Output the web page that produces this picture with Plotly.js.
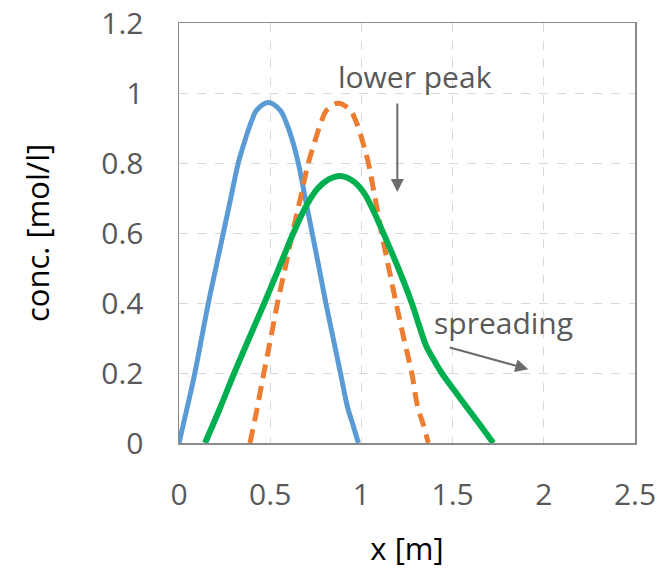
<!DOCTYPE html>
<html>
<head>
<meta charset="utf-8">
<script src="https://cdn.plot.ly/plotly-3.0.1.min.js"></script>
<style>html,body{margin:0;padding:0;background:#fff;}#chart{width:671px;height:569px;}</style>
</head>
<body>
<div id="chart"></div>
<script>
// Series
const blueX = [0, 0.04, 0.087, 0.124, 0.161, 0.202, 0.243, 0.284, 0.325, 0.356, 0.393, 0.426, 0.49, 0.554, 0.59, 0.627, 0.654, 0.692, 0.73, 0.768, 0.805, 0.845, 0.885, 0.925, 0.952, 0.983];
const blueY = [0, 0.09, 0.2, 0.3, 0.4, 0.5, 0.6, 0.7, 0.8, 0.855, 0.913, 0.951, 0.973, 0.951, 0.913, 0.855, 0.8, 0.7, 0.6, 0.5, 0.4, 0.3, 0.2, 0.1, 0.055, 0];

const orangeX = [0.389, 0.425, 0.465, 0.503, 0.54, 0.582, 0.622, 0.666, 0.709, 0.741, 0.777, 0.81, 0.873, 0.938, 0.975, 1.01, 1.038, 1.075, 1.111, 1.15, 1.19, 1.232, 1.276, 1.31, 1.338, 1.367];
const orangeY = [0, 0.09, 0.2, 0.3, 0.4, 0.5, 0.6, 0.7, 0.8, 0.855, 0.913, 0.951, 0.971, 0.951, 0.913, 0.855, 0.8, 0.7, 0.6, 0.5, 0.4, 0.3, 0.2, 0.1, 0.055, 0];

const greenX = [0.143, 0.225, 0.303, 0.385, 0.468, 0.548, 0.627, 0.70, 0.76, 0.82, 0.883, 0.95, 1.01, 1.06, 1.12, 1.202, 1.276, 1.32, 1.358, 1.40, 1.44, 1.51, 1.577, 1.65, 1.723];
const greenY = [0, 0.1, 0.2, 0.3, 0.4, 0.5, 0.6, 0.68, 0.727, 0.753, 0.763, 0.75, 0.718, 0.67, 0.6, 0.5, 0.4, 0.33, 0.274, 0.235, 0.2, 0.15, 0.103, 0.052, 0];

const xTickVals = [0, 0.5, 1, 1.5, 2, 2.5];
const xTickText = ["0", "0.5", "1", "1.5", "2", "2.5"];
const yTickVals = [0, 0.2, 0.4, 0.6, 0.8, 1, 1.2];
const yTickText = ["0", "0.2", "0.4", "0.6", "0.8", "1", "1.2"];

const annoTexts = ["lower peak", "spreading"];
const annoTextX = [1.294, 1.779];
const annoTextY = [1.048, 0.345];
const arrowTipX = [1.197, 1.915];
const arrowTipY = [0.717, 0.211];
const arrowAx = [0, -80];
const arrowAy = [-90, -22];

const FONT = "Open Sans, Liberation Sans, sans-serif";

const traces = [
  {x: blueX, y: blueY, type: "scatter", mode: "lines", name: "t0",
   line: {color: "#5B9BD5", width: 5, shape: "spline", smoothing: 1}},
  {x: orangeX, y: orangeY, type: "scatter", mode: "lines", name: "advection",
   line: {color: "#ED7D31", width: 5, dash: "14px,8px", shape: "spline", smoothing: 1}},
  {x: greenX, y: greenY, type: "scatter", mode: "lines", name: "advection+dispersion",
   line: {color: "#00B050", width: 6, shape: "spline", smoothing: 1}}
];

const annotations = [];
for (let i = 0; i < annoTexts.length; i++) {
  annotations.push({x: annoTextX[i], y: annoTextY[i], xref: "x", yref: "y",
    text: annoTexts[i], showarrow: false, xanchor: "center", yanchor: "middle",
    font: {family: FONT, size: 30, color: "#595959"}});
  annotations.push({x: arrowTipX[i], y: arrowTipY[i], xref: "x", yref: "y",
    text: "", showarrow: true, ax: arrowAx[i], ay: arrowAy[i],
    arrowhead: 2, arrowsize: 1.3, arrowwidth: 2, arrowcolor: "#6b6b6b"});
}

const layout = {
  width: 671, height: 569,
  margin: {l: 179, r: 36, t: 23, b: 126},
  paper_bgcolor: "#ffffff", plot_bgcolor: "#ffffff",
  showlegend: false,
  font: {family: FONT, color: "#595959"},
  xaxis: {
    range: [0, 2.5], tickvals: xTickVals, ticktext: xTickText,
    showgrid: true, gridcolor: "#d9d9d9", griddash: "dash", gridwidth: 1,
    zeroline: false, showline: true, linecolor: "#8a8a8a", linewidth: 1.5, mirror: true,
    ticks: "", ticklabelstandoff: 24,
    tickfont: {family: FONT, size: 30, color: "#595959"},
    title: {text: "x [m]", font: {family: FONT, size: 31, color: "#000000"}, standoff: 30}
  },
  yaxis: {
    range: [0, 1.2], tickvals: yTickVals, ticktext: yTickText,
    showgrid: true, gridcolor: "#d9d9d9", griddash: "dash", gridwidth: 1,
    zeroline: false, showline: true, linecolor: "#8a8a8a", linewidth: 1.5, mirror: true,
    ticks: "", ticklabelstandoff: 28,
    tickfont: {family: FONT, size: 30, color: "#595959"},
    title: {text: "conc. [mol/l]", font: {family: FONT, size: 31, color: "#000000"}, standoff: 42}
  },
  annotations: annotations
};

Plotly.newPlot("chart", traces, layout, {displayModeBar: false, staticPlot: true});
</script>
</body>
</html>
